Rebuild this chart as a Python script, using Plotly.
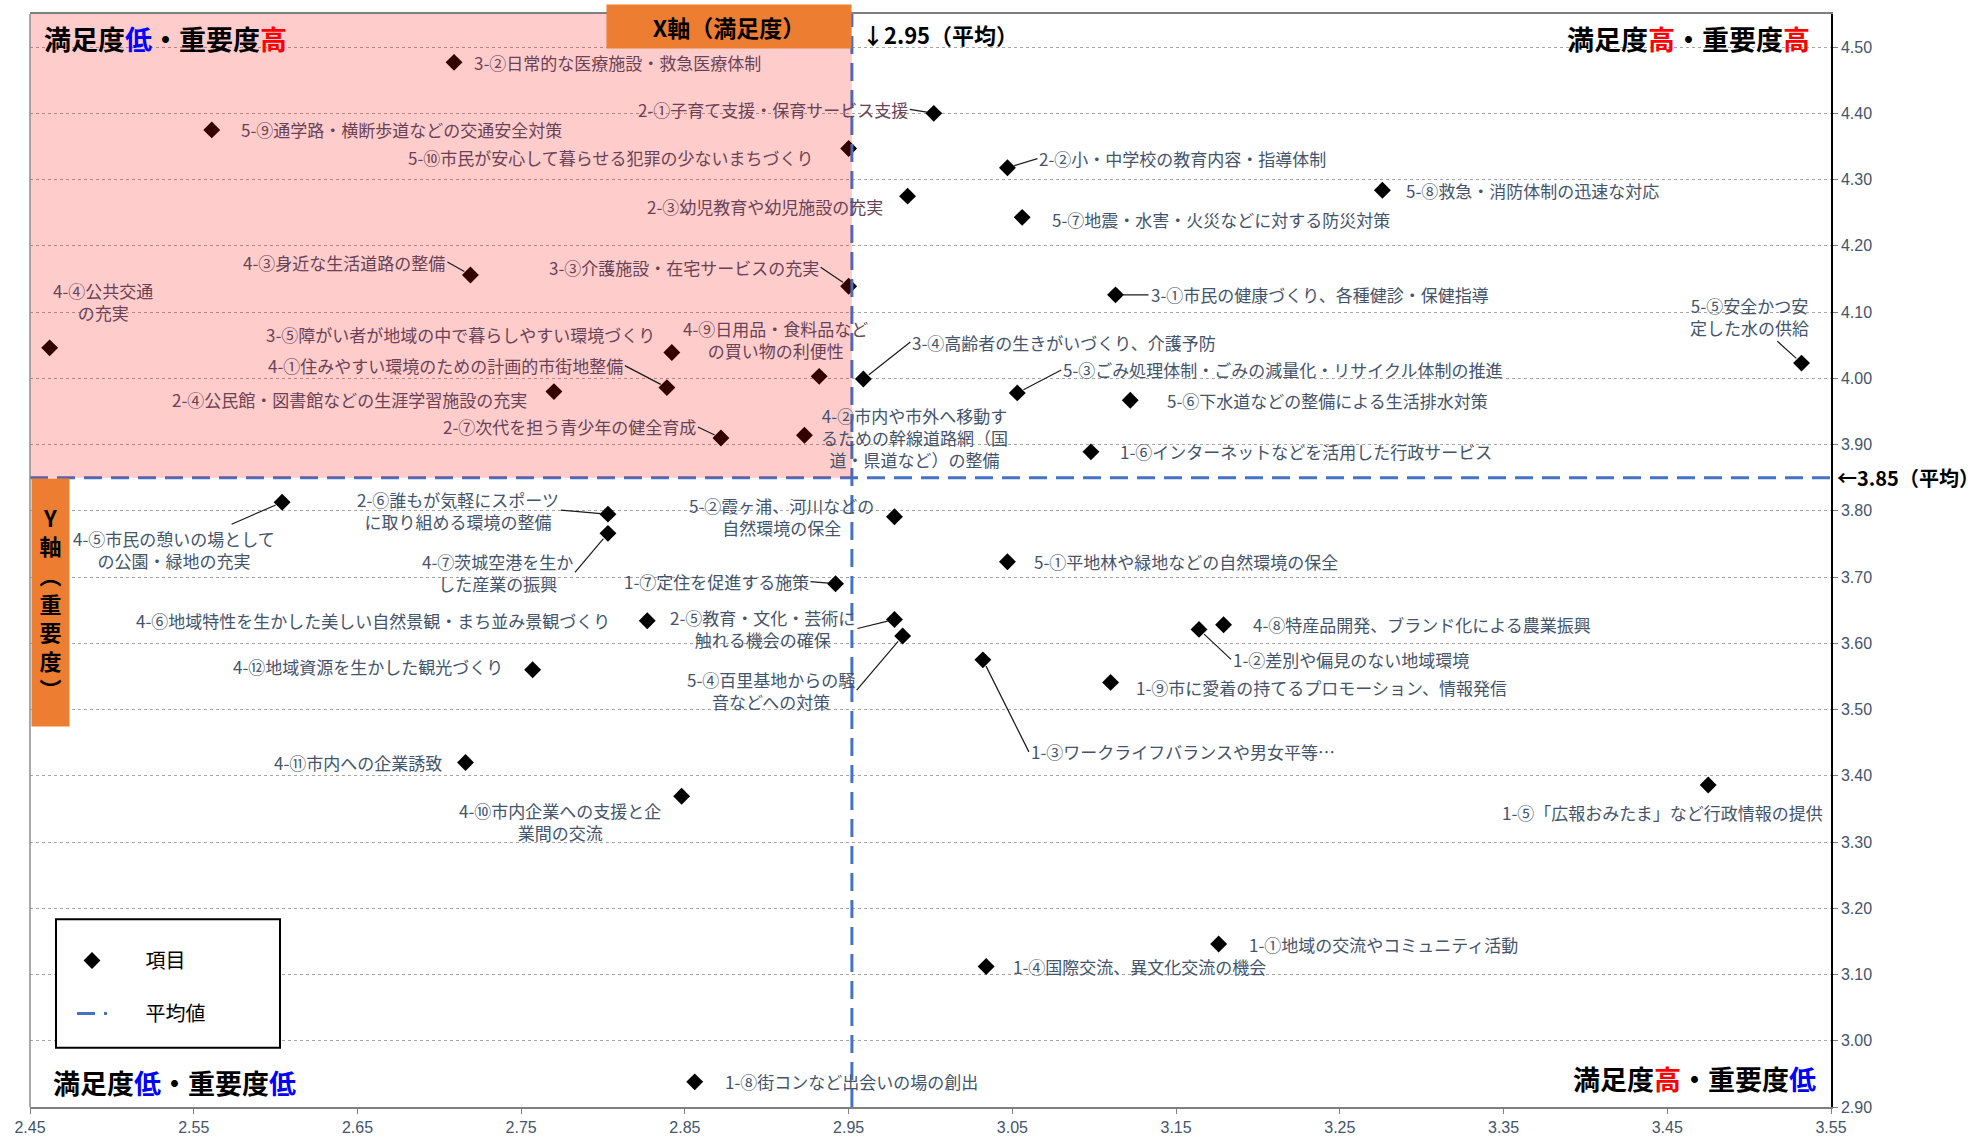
import plotly.graph_objects as go

# ---------------- data ----------------
codes = ["1-①", "1-②", "1-③", "1-④", "1-⑤", "1-⑥", "1-⑦", "1-⑧", "1-⑨",
         "2-①", "2-②", "2-③", "2-④", "2-⑤", "2-⑥", "2-⑦",
         "3-①", "3-②", "3-③", "3-④", "3-⑤",
         "4-①", "4-②", "4-③", "4-④", "4-⑤", "4-⑥", "4-⑦", "4-⑧", "4-⑨", "4-⑩", "4-⑪", "4-⑫",
         "5-①", "5-②", "5-③", "5-④", "5-⑤", "5-⑥", "5-⑦", "5-⑧", "5-⑨", "5-⑩"]
names = ["地域の交流やコミュニティ活動", "差別や偏見のない地域環境", "ワークライフバランスや男女平等…",
         "国際交流、異文化交流の機会", "「広報おみたま」など行政情報の提供", "インターネットなどを活用した行政サービス",
         "定住を促進する施策", "街コンなど出会いの場の創出", "市に愛着の持てるプロモーション、情報発信",
         "子育て支援・保育サービス支援", "小・中学校の教育内容・指導体制", "幼児教育や幼児施設の充実",
         "公民館・図書館などの生涯学習施設の充実", "教育・文化・芸術に触れる機会の確保",
         "誰もが気軽にスポーツに取り組める環境の整備", "次代を担う青少年の健全育成",
         "市民の健康づくり、各種健診・保健指導", "日常的な医療施設・救急医療体制", "介護施設・在宅サービスの充実",
         "高齢者の生きがいづくり、介護予防", "障がい者が地域の中で暮らしやすい環境づくり",
         "住みやすい環境のための計画的市街地整備", "市内や市外へ移動するための幹線道路網（国道・県道など）の整備",
         "身近な生活道路の整備", "公共交通の充実", "市民の憩いの場としての公園・緑地の充実",
         "地域特性を生かした美しい自然景観・まち並み景観づくり", "茨城空港を生かした産業の振興",
         "特産品開発、ブランド化による農業振興", "日用品・食料品などの買い物の利便性",
         "市内企業への支援と企業間の交流", "市内への企業誘致", "地域資源を生かした観光づくり",
         "平地林や緑地などの自然環境の保全", "霞ヶ浦、河川などの自然環境の保全",
         "ごみ処理体制・ごみの減量化・リサイクル体制の推進", "百里基地からの騒音などへの対策",
         "安全かつ安定した水の供給", "下水道などの整備による生活排水対策", "地震・水害・火災などに対する防災対策",
         "救急・消防体制の迅速な対応", "通学路・横断歩道などの交通安全対策", "市民が安心して暮らせる犯罪の少ないまちづくり"]
satisfaction = [3.176, 3.164, 3.032, 3.034, 3.475, 3.098, 2.942, 2.856, 3.110,
                3.002, 3.047, 2.986, 2.770, 2.978, 2.803, 2.872,
                3.113, 2.709, 2.950, 2.959, 2.842,
                2.839, 2.923, 2.719, 2.462, 2.604, 2.827, 2.803, 3.179, 2.932, 2.848, 2.716, 2.757,
                3.047, 2.978, 3.053, 2.983, 3.532, 3.122, 3.056, 3.276, 2.561, 2.950]
importance = [3.146, 3.621, 3.575, 3.112, 3.386, 3.889, 3.690, 2.938, 3.541,
              4.400, 4.318, 4.275, 3.980, 3.636, 3.795, 3.910,
              4.126, 4.477, 4.139, 3.999, 4.039,
              3.986, 3.914, 4.156, 4.046, 3.813, 3.634, 3.766, 3.628, 4.003, 3.369, 3.420, 3.560,
              3.723, 3.791, 3.978, 3.611, 4.023, 3.967, 4.243, 4.284, 4.375, 4.347]
mean_sat = 2.952
mean_imp = 3.85
x_ticks = [2.45, 2.55, 2.65, 2.75, 2.85, 2.95, 3.05, 3.15, 3.25, 3.35, 3.45, 3.55]
y_ticks = [2.90, 3.00, 3.10, 3.20, 3.30, 3.40, 3.50, 3.60, 3.70, 3.80, 3.90, 4.00, 4.10, 4.20, 4.30, 4.40, 4.50]

# wrapped label texts (line breaks as in the reference)
wrapped = {
    "4-④": "4-④公共交通<br>の充実",
    "5-⑤": "5-⑤安全かつ安<br>定した水の供給",
    "4-⑨": "4-⑨日用品・食料品など<br>の買い物の利便性",
    "4-②": "4-②市内や市外へ移動す<br>るための幹線道路網（国<br>道・県道など）の整備",
    "4-⑤": "4-⑤市民の憩いの場として<br>の公園・緑地の充実",
    "2-⑥": "2-⑥誰もが気軽にスポーツ<br>に取り組める環境の整備",
    "4-⑦": "4-⑦茨城空港を生か<br>した産業の振興",
    "5-②": "5-②霞ヶ浦、河川などの<br>自然環境の保全",
    "2-⑤": "2-⑤教育・文化・芸術に<br>触れる機会の確保",
    "5-④": "5-④百里基地からの騒<br>音などへの対策",
    "4-⑩": "4-⑩市内企業への支援と企<br>業間の交流",
}

# ---------------- label placement (style) ----------------
# code: (xanchor, dx px, dy px (down +), leader line)
label_pos = {
    "3-②": ("left", 18, 0, False), "2-①": ("right", -24, -4, True), "5-⑨": ("left", 27, 0, False),
    "5-⑩": ("right", -34, 9, False), "2-②": ("left", 30, -9, True), "5-⑧": ("left", 22, 0, False),
    "2-③": ("right", -23, 10, False), "5-⑦": ("left", 28, 2, False), "4-③": ("right", -23, -13, True),
    "3-③": ("right", -28, -19, True), "3-①": ("left", 33, 0, True), "4-④": ("center", 53, -46, False),
    "5-⑤": ("center", -52, -47, True), "3-⑤": ("right", -15, -18, False), "4-⑨": ("center", -44, -37, False),
    "4-①": ("right", -42, -22, True), "2-④": ("right", -25, 8, False), "2-⑦": ("right", -23, -11, True),
    "4-②": ("left", 15, 2, False), "3-④": ("left", 47, -37, True), "5-③": ("left", 44, -23, True),
    "5-⑥": ("left", 35, 0, False), "1-⑥": ("left", 27, 0, False), "4-⑤": ("center", -108, 47, True),
    "2-⑥": ("right", -47, -4, True), "4-⑦": ("right", -33, 39, True), "5-②": ("right", -18, 0, False),
    "5-①": ("left", 25, 0, False), "1-⑦": ("right", -25, -2, True), "4-⑥": ("right", -35, 0, False),
    "2-⑤": ("right", -37, 9, True), "5-④": ("right", -46, 54, True), "4-⑧": ("left", 27, 0, False),
    "1-②": ("left", 32, 30, True), "1-③": ("left", 46, 92, True), "1-⑨": ("left", 23, 5, False),
    "4-⑫": ("right", -28, -3, False), "4-⑪": ("right", -22, 0, False), "4-⑩": ("right", -19, 25, False),
    "1-⑤": ("right", 117, 27, False), "1-①": ("left", 28, 0, False), "1-④": ("left", 25, 0, False),
    "1-⑧": ("left", 28, 0, False),
}

W, H = 1985, 1148
ML, MR, MT, MB = 30, 154, 13, 29
PW, PH = W - ML - MR, H - MT - MB
X_RANGE = [2.45, 3.55]
Y_RANGE = [2.90, 4.55]
px_x = PW / (X_RANGE[1] - X_RANGE[0])
px_y = PH / (Y_RANGE[1] - Y_RANGE[0])

JP = "Noto Sans CJK JP"
LABEL_SIZE = 17
TEXT_COL = "#44546A"
TINT_COL = "#694355"
PINK = "rgba(255,0,0,0.2)"
BLUE = "#4472C4"
PAD = "\u3000\u00a0\u00a0\u00a0"

fig = go.Figure()

fig.add_trace(go.Scatter(
    x=satisfaction, y=importance, mode="markers", name=PAD + "項目",
    marker=dict(symbol="diamond", size=13, color="black"),
    text=[c + n for c, n in zip(codes, names)], hoverinfo="text+x+y",
    legendgroup="a",
))
fig.add_trace(go.Scatter(
    x=[mean_sat, mean_sat, None, X_RANGE[0], X_RANGE[1]],
    y=[Y_RANGE[0], Y_RANGE[1], None, mean_imp, mean_imp],
    mode="lines", name=PAD + "平均値", legendgroup="b",
    line=dict(color=BLUE, width=3, dash="18px,9px"),
    hoverinfo="skip", cliponaxis=False,
))


def est_width(txt):
    best = 0
    for line in txt.split("<br>"):
        w = sum(0.55 if ord(ch) < 256 else 1.0 for ch in line)
        best = max(best, w)
    return best * LABEL_SIZE


annotations = []
for c, n, sx, iy in zip(codes, names, satisfaction, importance):
    txt = wrapped.get(c, c + n)
    xa, dx, dy, leader = label_pos[c]
    w = est_width(txt)
    cx = dx + (w / 2 if xa == "left" else (-w / 2 if xa == "right" else 0))
    cx_data = sx + cx / px_x
    cy_data = iy - dy / px_y
    tinted = cx_data < mean_sat and cy_data > mean_imp
    col = TINT_COL if tinted else TEXT_COL
    common = dict(x=sx, y=iy, xref="x", yref="y", text=txt, xanchor=xa, yanchor="middle",
                  align="center", font=dict(family=JP, size=LABEL_SIZE, color=col))
    if leader:
        annotations.append(dict(**common, showarrow=True, ax=dx, ay=dy, arrowhead=0,
                                arrowwidth=1.2, arrowcolor="#1a1a1a", standoff=7))
    else:
        annotations.append(dict(**common, showarrow=False, xshift=dx, yshift=-dy))


def quad(low_sat, low_imp):
    s = "<span style='color:#0000FF'>低</span>" if low_sat else "<span style='color:#FF0000'>高</span>"
    i = "<span style='color:#0000FF'>低</span>" if low_imp else "<span style='color:#FF0000'>高</span>"
    return "<b>満足度" + s + "・重要度" + i + "</b>"


def py(actual_y):
    return (H - MB - actual_y) / PH


def pxp(actual_x):
    return (actual_x - ML) / PW


qfont = dict(family=JP, size=27, color="black")
annotations += [
    dict(text=quad(True, False), xref="paper", yref="paper", x=pxp(42), y=py(38),
         xanchor="left", yanchor="middle", showarrow=False, font=qfont),
    dict(text=quad(False, False), xref="paper", yref="paper", x=pxp(1812), y=py(38),
         xanchor="right", yanchor="middle", showarrow=False, font=qfont),
    dict(text=quad(True, True), xref="paper", yref="paper", x=pxp(51), y=py(1094),
         xanchor="left", yanchor="middle", showarrow=False, font=qfont),
    dict(text=quad(False, True), xref="paper", yref="paper", x=pxp(1818), y=py(1090),
         xanchor="right", yanchor="middle", showarrow=False, font=qfont),
    # axis title boxes
    dict(text="<b>X軸（満足度）</b>", xref="x", yref="paper", x=mean_sat, y=py(25.5),
         xanchor="right", yanchor="middle", showarrow=False, bgcolor="#ED7D31",
         width=244, height=43, borderpad=0, font=dict(family=JP, size=23, color="black")),
    dict(text="<b>Y<br>軸<br>︵<br>重<br>要<br>度<br>︶</b>", xref="paper", yref="paper",
         x=pxp(50.5), y=py(608.5), xanchor="center", yanchor="middle",
         showarrow=False, bgcolor="#ED7D31", width=37, height=247, borderpad=0,
         font=dict(family=JP, size=22, color="black")),
    # mean value labels
    dict(text=f"<b>↓{mean_sat:.2f}（平均）</b>", xref="x", yref="paper", x=mean_sat, xshift=8,
         y=py(33), xanchor="left", yanchor="middle", showarrow=False,
         font=dict(family=JP, size=22, color="black")),
    dict(text=f"<b>←{mean_imp:.2f}（平均）</b>", xref="paper", yref="y", x=pxp(1835),
         y=mean_imp, xanchor="left", yanchor="middle", showarrow=False,
         font=dict(family=JP, size=20, color="black")),
]

shapes = [
    dict(type="rect", xref="x", yref="y", x0=X_RANGE[0], x1=mean_sat, y0=mean_imp, y1=Y_RANGE[1],
         fillcolor=PINK, line=dict(width=0), layer="above"),
    dict(type="line", xref="paper", yref="paper", x0=0, x1=0, y0=0, y1=1,
         line=dict(color="#8C8C8C", width=1.5)),
    # legend frame
    dict(type="rect", xref="paper", yref="paper", x0=pxp(56), x1=pxp(280), y0=py(1059), y1=py(929),
         fillcolor="white", line=dict(color="black", width=2), layer="above"),
]

fig.update_layout(
    width=W, height=H,
    margin=dict(l=ML, r=MR, t=MT, b=MB, pad=0),
    paper_bgcolor="white", plot_bgcolor="white",
    font=dict(family=JP, color=TEXT_COL),
    showlegend=True,
    legend=dict(x=pxp(72), y=py(951), xanchor="left", yanchor="top",
                borderwidth=0, bgcolor="rgba(0,0,0,0)",
                font=dict(family=JP, size=20, color="black"),
                tracegroupgap=24, itemwidth=30),
    xaxis=dict(range=X_RANGE, tickvals=x_ticks, ticktext=[f"{v:.2f}" for v in x_ticks],
               showgrid=False, zeroline=False, showline=True, linecolor="#7F7F7F", linewidth=2,
               mirror=True, ticks="outside", ticklen=5, tickcolor="#7F7F7F",
               tickfont=dict(family="Liberation Sans", size=16, color=TEXT_COL)),
    yaxis=dict(range=Y_RANGE, side="right", tickvals=y_ticks, ticktext=[f"{v:.2f}" for v in y_ticks],
               showgrid=True, gridcolor="#A6A6A6", griddash="dot", gridwidth=1,
               zeroline=False, showline=True, linecolor="black", linewidth=1.5,
               ticks="outside", ticklen=5, tickcolor="#7F7F7F",
               tickfont=dict(family="Liberation Sans", size=16, color=TEXT_COL)),
    annotations=annotations,
    shapes=shapes,
)

fig.write_html("out.html", config={"displayModeBar": False},
               post_script="document.body.style.margin='0';")
